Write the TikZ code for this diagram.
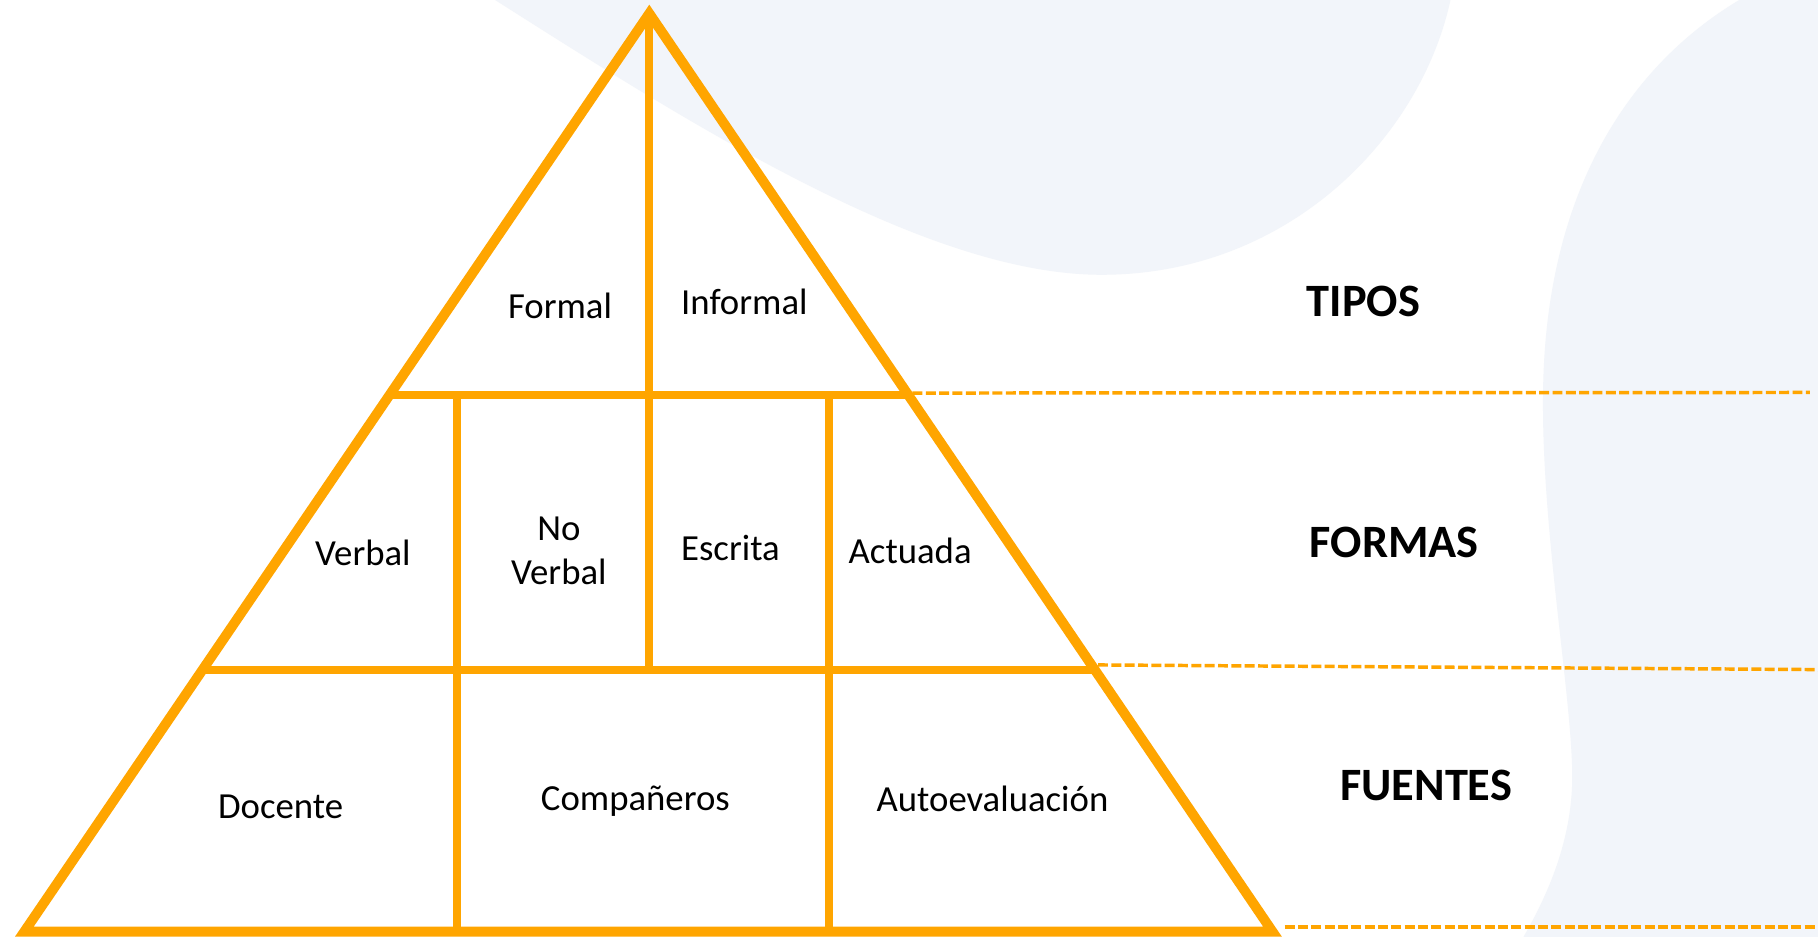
\documentclass[tikz,border=0pt]{standalone}
\usepackage{fontspec}
\setmainfont{Carlito}
\usetikzlibrary{calc}
\definecolor{pyr}{RGB}{255,165,0}
\definecolor{bgblob}{RGB}{242,245,250}
\begin{document}
\begin{tikzpicture}[x=1pt,y=-1pt,
  lbl/.style={font=\fontsize{31.7}{38}\selectfont, inner sep=0pt, anchor=base},
  lbltwo/.style={font=\fontsize{31.7}{38}\selectfont, inner sep=0pt, align=center, anchor=center},
  hdr/.style={font=\fontsize{40}{48}\selectfont\bfseries, inner sep=0pt, anchor=base},
  pyredge/.style={draw=pyr, line width=8.5pt, line join=miter},
  pyrline/.style={draw=pyr, line width=6.8pt},
  guideline/.style={draw=pyr, line width=3pt, dash pattern=on 8.6pt off 2.9pt}]
\useasboundingbox (0,0) rectangle (1568,808);
\fill[white] (0,0) rectangle (1568,808);
% background blobs
\fill[bgblob] (427,0) .. controls (600,110) and (800,237) .. (950,237)
  .. controls (1110,237) and (1225,120) .. (1251,0) -- cycle;
\fill[bgblob] (1500,0) .. controls (1400,60) and (1335,170) .. (1331,330)
  .. controls (1328,450) and (1356,600) .. (1356,670)
  .. controls (1356,730) and (1330,780) .. (1314,808)
  -- (1568,808) -- (1568,0) -- cycle;
% pyramid coordinates
\coordinate (A) at (560,11.6);
\coordinate (L) at (21,803.5);
\coordinate (R) at (1097.5,803.5);
\coordinate (h1l) at ($(A)!0.416!(L)$);
\coordinate (h1r) at ($(A)!0.416!(R)$);
\coordinate (h2l) at ($(A)!0.7153!(L)$);
\coordinate (h2r) at ($(A)!0.7153!(R)$);
\coordinate (cmid) at (560,578);
\coordinate (v1t) at (394,341);
\coordinate (v1b) at (394,803.5);
\coordinate (v2t) at (715,341);
\coordinate (v2b) at (715,803.5);
% dashed guides
\coordinate (d1a) at (787,339);
\coordinate (d1b) at (1561,338.5);
\coordinate (d2a) at (947,573.5);
\coordinate (d2b) at (1568,577.5);
\coordinate (d3a) at (1108,799.5);
\coordinate (d3b) at (1568,799.5);
\draw[guideline] (d1a) -- (d1b);
\draw[guideline] (d2a) -- (d2b);
\draw[guideline] (d3a) -- (d3b);
% inner lines
\draw[pyrline] (h1l) -- (h1r);
\draw[pyrline] (h2l) -- (h2r);
\draw[pyrline] (A) -- (cmid);
\draw[pyrline] (v1t) -- (v1b);
\draw[pyrline] (v2t) -- (v2b);
% triangle
\draw[pyredge] (A) -- (L) -- (R) -- cycle;
% labels
\node[lbl] (formal) at (483,275) {Formal};
\node[lbl] (informal) at (642,271) {Informal};
\node[lbl] (verbal) at (313,488) {Verbal};
\node[lbltwo] (noverbal) at (482,475) {No\\Verbal};
\node[lbl] (escrita) at (630,483) {Escrita};
\node[lbl] (actuada) at (785,486) {Actuada};
\node[lbl] (docente) at (242,706) {Docente};
\node[lbl] (comp) at (548,699) {Compañeros};
\node[lbl] (auto) at (856,700) {Autoevaluación};
\node[hdr] (tipos) at (1176,273) {TIPOS};
\node[hdr] (formas) at (1202.5,481) {FORMAS};
\node[hdr] (fuentes) at (1230,690) {FUENTES};
\end{tikzpicture}
\end{document}
